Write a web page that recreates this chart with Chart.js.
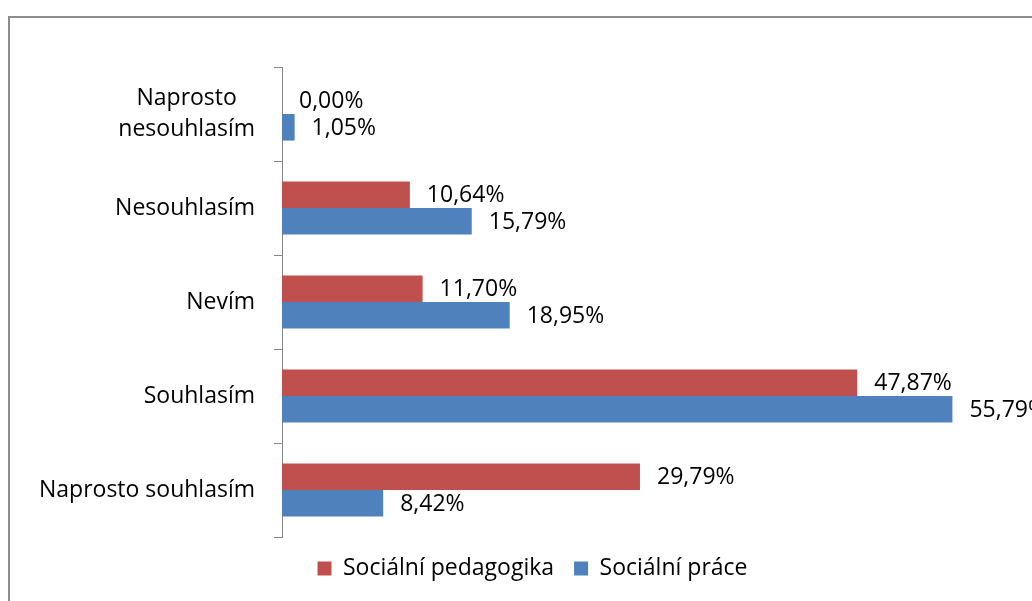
<!DOCTYPE html>
<html>
<head>
<meta charset="utf-8">
<script src="https://cdn.jsdelivr.net/npm/chart.js@4.4.1/dist/chart.umd.min.js"></script>
<style>
  html, body { margin: 0; padding: 0; background: #fff; overflow: hidden; }
  #wrap { position: relative; width: 1032px; height: 601px; }
</style>
</head>
<body>
<div id="wrap"><canvas id="chart"></canvas></div>
<script>
// data
const categories = [['Naprosto', 'nesouhlasím'], 'Nesouhlasím', 'Nevím', 'Souhlasím', 'Naprosto souhlasím'];
const pedagogika = [0, 10.64, 11.70, 47.87, 29.79];
const prace = [1.05, 15.79, 18.95, 55.79, 8.42];
const seriesNames = ['Sociální pedagogika', 'Sociální práce'];

const fontSize = 23;
Chart.defaults.font.family = 'Open Sans';
Chart.defaults.font.size = fontSize;
Chart.defaults.color = '#000';

const axisColor = '#868686';

// ramecek grafu (jen levy a horni okraj je videt)
const framePlugin = {
  id: 'frame',
  beforeDraw(chart) {
    const ctx = chart.ctx;
    ctx.save();
    ctx.strokeStyle = '#8c8c8c';
    ctx.lineWidth = 2;
    ctx.beginPath();
    ctx.moveTo(9, 601);
    ctx.lineTo(9, 17);
    ctx.lineTo(1032, 17);
    ctx.stroke();
    ctx.restore();
  }
};

// popisky kategorii - blok zarovnany doprava, radky na stred
const categoryLabels = {
  id: 'categoryLabels',
  afterDraw(chart) {
    const ctx = chart.ctx;
    const yScale = chart.scales.y;
    const right = yScale.right - 8 - 19;
    const lineH = fontSize * 1.35;
    ctx.save();
    ctx.font = fontSize + 'px "Open Sans"';
    ctx.fillStyle = '#000';
    ctx.textAlign = 'center';
    ctx.textBaseline = 'middle';
    chart.data.labels.forEach((lab, i) => {
      const lines = Array.isArray(lab) ? lab : [lab];
      const maxW = Math.max(...lines.map(l => ctx.measureText(l).width));
      const cx = right - maxW / 2;
      const cy = yScale.getPixelForValue(i);
      lines.forEach((l, k) => {
        ctx.fillText(l, cx, cy + (k - (lines.length - 1) / 2) * lineH);
      });
    });
    ctx.restore();
  }
};

// popisky hodnot za koncem sloupcu
const valueLabels = {
  id: 'valueLabels',
  afterDatasetsDraw(chart) {
    const ctx = chart.ctx;
    ctx.save();
    ctx.font = fontSize + 'px "Open Sans"';
    ctx.fillStyle = '#000';
    ctx.textAlign = 'left';
    ctx.textBaseline = 'middle';
    chart.data.datasets.forEach((ds, i) => {
      chart.getDatasetMeta(i).data.forEach((bar, j) => {
        const txt = ds.data[j].toFixed(2).replace('.', ',') + '%';
        ctx.fillText(txt, bar.x + 17, bar.y + 1);
      });
    });
    ctx.restore();
  }
};

new Chart(document.getElementById('chart'), {
  type: 'bar',
  data: {
    labels: categories,
    datasets: [
      { label: seriesNames[0], data: pedagogika, backgroundColor: '#C0504D' },
      { label: seriesNames[1], data: prace, backgroundColor: '#4F81BD' }
    ]
  },
  options: {
    indexAxis: 'y',
    responsive: true,
    maintainAspectRatio: false,
    animation: false,
    datasets: { bar: { categoryPercentage: 0.565, barPercentage: 1 } },
    layout: { padding: { top: 67, right: 29, left: 62, bottom: 11 } },
    plugins: {
      legend: {
        position: 'bottom',
        labels: { boxWidth: 14, boxHeight: 14, padding: 20, color: '#000', font: { size: fontSize } }
      },
      tooltip: { enabled: false }
    },
    scales: {
      x: { display: false, min: 0, max: 60 },
      y: {
        afterFit(scale) { scale.width = 220; },
        border: { color: axisColor, width: 1 },
        grid: { drawOnChartArea: false, drawTicks: true, tickLength: 8, color: axisColor, offset: true },
        ticks: { display: false }
      }
    }
  },
  plugins: [framePlugin, categoryLabels, valueLabels]
});
</script>
</body>
</html>
